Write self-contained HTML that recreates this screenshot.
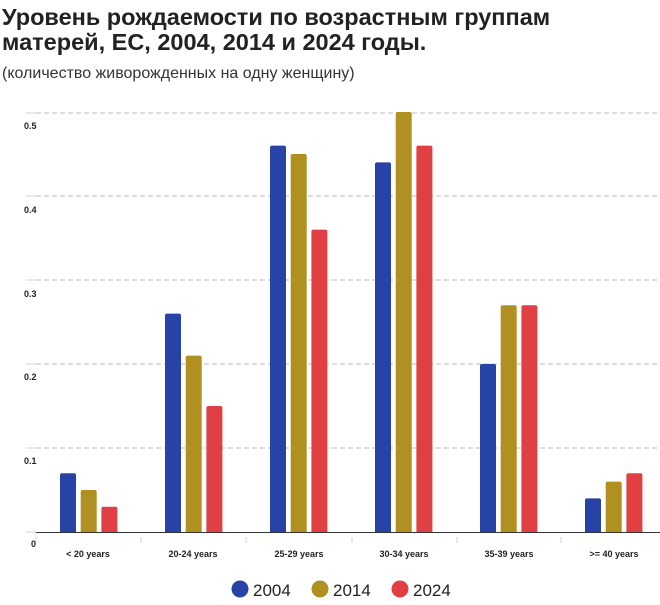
<!DOCTYPE html>
<html><head><meta charset="utf-8"><style>
body{margin:0;width:660px;height:600px;background:#fff;overflow:hidden;font-family:"Liberation Sans",sans-serif}
</style></head><body>
<svg width="660" height="600" xmlns="http://www.w3.org/2000/svg" font-family="Liberation Sans, sans-serif">
<text x="2" y="25" font-size="23.5" font-weight="bold" fill="#222">Уровень рождаемости по возрастным группам</text>
<text x="2" y="50" font-size="23.5" font-weight="bold" fill="#222">матерей, ЕС, 2004, 2014 и 2024 годы.</text>
<text x="2" y="78" font-size="16" fill="#333">(количество живорожденных на одну женщину)</text>
<g stroke="#bbb" stroke-dasharray="5,3">
<line x1="36" y1="113" x2="660" y2="113"/><line x1="36" y1="196" x2="660" y2="196"/>
<line x1="36" y1="280" x2="660" y2="280"/><line x1="36" y1="364" x2="660" y2="364"/>
<line x1="36" y1="448" x2="660" y2="448"/></g>
<g stroke="#c8d4ea"><line x1="26" y1="113" x2="36" y2="113"/><line x1="26" y1="196" x2="36" y2="196"/><line x1="26" y1="280" x2="36" y2="280"/><line x1="26" y1="364" x2="36" y2="364"/><line x1="26" y1="448" x2="36" y2="448"/><line x1="26" y1="532" x2="36" y2="532"/>
<line x1="36" y1="532" x2="36" y2="543"/><line x1="141" y1="532" x2="141" y2="543"/><line x1="246" y1="532" x2="246" y2="543"/><line x1="352" y1="532" x2="352" y2="543"/><line x1="457" y1="532" x2="457" y2="543"/><line x1="561" y1="532" x2="561" y2="543"/></g>
<g font-size="9" font-weight="bold" fill="#222">
<text x="24" y="129">0.5</text><text x="24" y="213">0.4</text><text x="24" y="297">0.3</text><text x="24" y="380">0.2</text><text x="24" y="464">0.1</text><text x="31" y="547">0</text>
</g>
<g font-size="9" font-weight="bold" fill="#222" text-anchor="middle">
<text x="88" y="557">&lt; 20 years</text><text x="193" y="557">20-24 years</text><text x="299" y="557">25-29 years</text><text x="404" y="557">30-34 years</text><text x="509" y="557">35-39 years</text><text x="614" y="557">&gt;= 40 years</text>
</g>
<g fill="#2743a6">
<rect x="60" y="473.2" width="16" height="60.8" rx="2"/>
<rect x="165" y="313.6" width="16" height="220.4" rx="2"/>
<rect x="270" y="145.6" width="16" height="388.4" rx="2"/>
<rect x="375" y="162.4" width="16" height="371.6" rx="2"/>
<rect x="480" y="364" width="16" height="170" rx="2"/>
<rect x="585" y="498.4" width="16" height="35.6" rx="2"/>
</g>
<g fill="#b09020">
<rect x="80.7" y="490" width="16" height="44" rx="2"/>
<rect x="185.7" y="355.6" width="16" height="178.4" rx="2"/>
<rect x="290.7" y="154" width="16" height="380" rx="2"/>
<rect x="395.7" y="112" width="16" height="422" rx="2"/>
<rect x="500.7" y="305.2" width="16" height="228.8" rx="2"/>
<rect x="605.7" y="481.6" width="16" height="52.4" rx="2"/>
</g>
<g fill="#e04044">
<rect x="101.4" y="506.8" width="16" height="27.2" rx="2"/>
<rect x="206.4" y="406" width="16" height="128" rx="2"/>
<rect x="311.4" y="229.6" width="16" height="304.4" rx="2"/>
<rect x="416.4" y="145.6" width="16" height="388.4" rx="2"/>
<rect x="521.4" y="305.2" width="16" height="228.8" rx="2"/>
<rect x="626.4" y="473.2" width="16" height="60.8" rx="2"/>
</g>
<rect x="36" y="533" width="624" height="4" fill="#fff"/>
<line x1="36" y1="532.5" x2="660" y2="532.5" stroke="#333" stroke-width="1"/>
<circle cx="240" cy="589" r="8.5" fill="#2743a6"/><text x="253" y="596" font-size="17" fill="#222">2004</text>
<circle cx="320" cy="589" r="8.5" fill="#b09020"/><text x="333" y="596" font-size="17" fill="#222">2014</text>
<circle cx="400" cy="589" r="8.5" fill="#e04044"/><text x="413" y="596" font-size="17" fill="#222">2024</text>
</svg>
</body></html>
